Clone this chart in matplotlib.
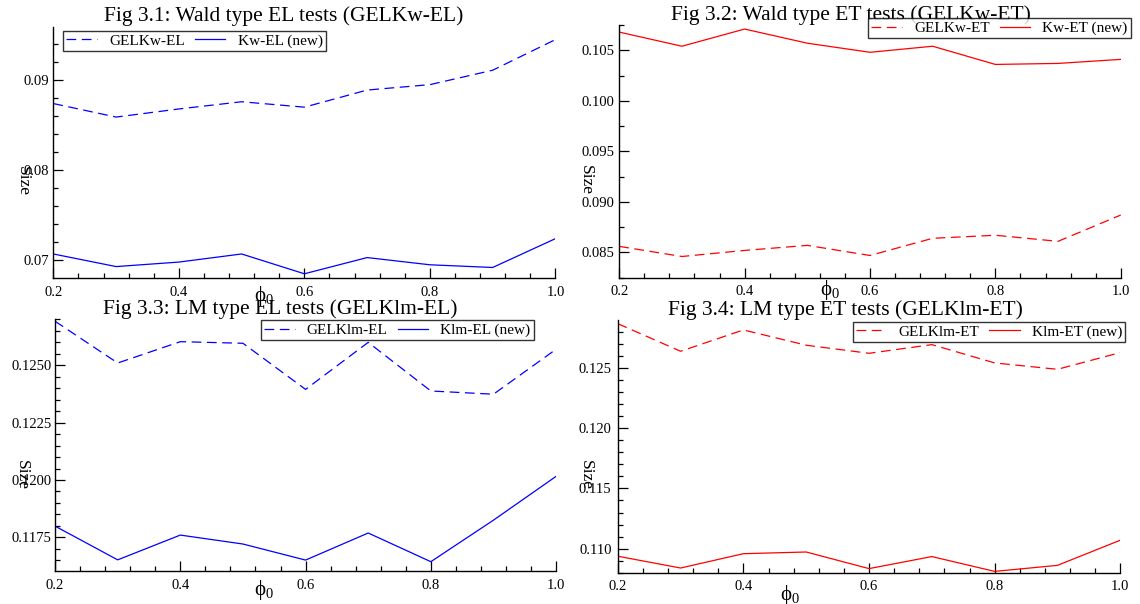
import matplotlib
matplotlib.use("Agg")
import matplotlib.pyplot as plt
from matplotlib.ticker import MultipleLocator, FormatStrFormatter

plt.rcParams['font.family'] = ['Liberation Serif', 'DejaVu Serif']
plt.rcParams['mathtext.fontset'] = 'custom'
plt.rcParams['mathtext.rm'] = 'Liberation Serif'
plt.rcParams['mathtext.it'] = 'Liberation Serif:italic'
plt.rcParams['lines.scale_dashes'] = False

# phi_0 grid
phi = [0.2, 0.3, 0.4, 0.5, 0.6, 0.7, 0.8, 0.9, 1.0]

# Fig 3.1 Wald type EL
gelkw_el = [0.0874, 0.0859, 0.0868, 0.0876, 0.0870, 0.0889, 0.0895, 0.0911, 0.0945]
kw_el = [0.0707, 0.0693, 0.0698, 0.0707, 0.0685, 0.0703, 0.0695, 0.0692, 0.0724]

# Fig 3.2 Wald type ET
gelkw_et = [0.0856, 0.0846, 0.0852, 0.0857, 0.0847, 0.0864, 0.0867, 0.0861, 0.0887]
kw_et = [0.1068, 0.1054, 0.1071, 0.1057, 0.1048, 0.1054, 0.1036, 0.1037, 0.1041]

# Fig 3.3 LM type EL
gelklm_el = [0.12692, 0.1251, 0.12603, 0.12596, 0.12395, 0.12600, 0.12388, 0.12374, 0.12570]
klm_el = [0.11799, 0.11652, 0.11760, 0.11721, 0.11651, 0.11769, 0.11644, 0.11825, 0.12016]

# Fig 3.4 LM type ET
gelklm_et = [0.12868, 0.12639, 0.12816, 0.12689, 0.12622, 0.12694, 0.12542, 0.12489, 0.12628]
klm_et = [0.10937, 0.10839, 0.10958, 0.10972, 0.10834, 0.10934, 0.10811, 0.10861, 0.11070]

panels = [
    dict(pos=[0.0468, 0.5397, 0.4404, 0.4156], title="Fig 3.1: Wald type EL tests (GELKw-EL)",
         dashed=gelkw_el, solid=kw_el, names=("GELKw-EL", "Kw-EL (new)"), color="#0000ff",
         ylim=(0.06803, 0.0959), major=0.01, minor=0.002, fmt="%.2f", ypad=3,
         title_x=0.459, title_pad=4.3,
         leg=("upper left", (0.02, 0.985)), size_xy=(-0.061, 0.386), phi_xy=(0.42, -0.072)),
    dict(pos=[0.5432, 0.5402, 0.4399, 0.4184], title="Fig 3.2: Wald type ET tests (GELKw-ET)",
         dashed=gelkw_et, solid=kw_et, names=("GELKw-ET", "Kw-ET (new)"), color="#ff0000",
         ylim=(0.0825, 0.1075), major=0.005, minor=0.0025, fmt="%.3f", ypad=3.6,
         title_x=0.462, title_pad=3,
         leg=("upper right", (1.02, 1.0265)), size_xy=(-0.066, 0.387), phi_xy=(0.42, -0.049)),
    dict(pos=[0.0483, 0.0541, 0.4395, 0.4182], title="Fig 3.3: LM type EL tests (GELKlm-EL)",
         dashed=gelklm_el, solid=klm_el, names=("GELKlm-EL", "Klm-EL (new)"), color="#0000ff",
         ylim=(0.11602, 0.12703), major=0.0025, minor=0.0005, fmt="%.4f", ypad=2.6,
         title_x=0.45, title_pad=2.5,
         leg=("upper right", (0.955, 0.9937)), size_xy=(-0.067, 0.380), phi_xy=(0.416, -0.074)),
    dict(pos=[0.5419, 0.0518, 0.4408, 0.4179], title="Fig 3.4: LM type ET tests (GELKlm-ET)",
         dashed=gelklm_et, solid=klm_et, names=("GELKlm-ET", "Klm-ET (new)"), color="#ff0000",
         ylim=(0.1080, 0.12896), major=0.005, minor=0.001, fmt="%.3f", ypad=4.5,
         title_x=0.453, title_pad=3.6,
         leg=("upper right", (1.01, 0.993)), size_xy=(-0.063, 0.386), phi_xy=(0.342, -0.088)),
]

fig = plt.figure(figsize=(11.4, 6.04), dpi=100)

for p in panels:
    ax = fig.add_axes(p["pos"])
    ax.plot(phi, p["dashed"], color=p["color"], lw=0.9, dashes=(7, 4), label=p["names"][0])
    ax.plot(phi, p["solid"], color=p["color"], lw=0.9, label=p["names"][1])
    ax.set_xlim(0.2, 1.0)
    ax.set_ylim(*p["ylim"])
    ax.xaxis.set_major_locator(MultipleLocator(0.2))
    ax.xaxis.set_minor_locator(MultipleLocator(0.04))
    ax.xaxis.set_major_formatter(FormatStrFormatter("%.1f"))
    ax.yaxis.set_major_locator(MultipleLocator(p["major"]))
    ax.yaxis.set_minor_locator(MultipleLocator(p["minor"]))
    ax.yaxis.set_major_formatter(FormatStrFormatter(p["fmt"]))
    for s in ("top", "right"):
        ax.spines[s].set_visible(False)
    for s in ("left", "bottom"):
        ax.spines[s].set_linewidth(1.0)
    ax.tick_params(which="major", direction="in", length=7, width=0.9, labelsize=10.5)
    ax.tick_params(which="minor", direction="in", length=3.5, width=0.9)
    ax.tick_params(axis="x", which="major", pad=5.5)
    ax.tick_params(axis="y", which="major", pad=p["ypad"])
    ax.set_title(p["title"], fontsize=15.5, pad=p["title_pad"])
    ax.title.set_x(p["title_x"])
    ax.set_ylabel("Size", rotation=270, fontsize=12.5, va="center", ha="center")
    ax.yaxis.set_label_coords(*p["size_xy"])
    ax.set_xlabel(r"$\mathrm{ϕ}_0$", fontsize=15, va="center")
    ax.xaxis.set_label_coords(*p["phi_xy"])
    leg = ax.legend(loc=p["leg"][0], bbox_to_anchor=p["leg"][1], ncol=2, fontsize=11,
                    frameon=True, fancybox=False, borderpad=0.2, handlelength=2.0,
                    handletextpad=0.8, columnspacing=0.65, borderaxespad=0)
    leg.get_frame().set_edgecolor("black")
    leg.get_frame().set_linewidth(1.0)

fig.savefig("out.png", dpi=100, facecolor="white")
